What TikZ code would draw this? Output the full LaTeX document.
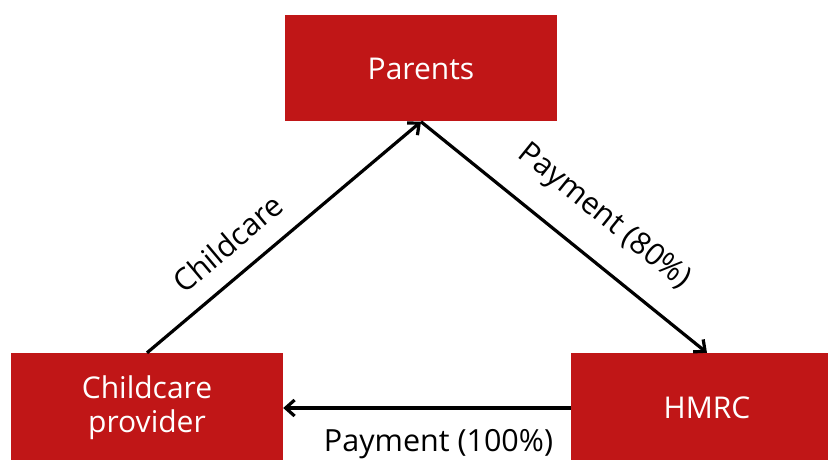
\documentclass[tikz,border=0pt]{standalone}
\usepackage{fontspec}
\setmainfont{Open Sans}
\usetikzlibrary{arrows.meta}
\definecolor{boxred}{RGB}{192,22,23}
\tikzset{
  party/.style={fill=boxred, draw=none, minimum width=272pt, minimum height=106pt,
    text=white, align=center, font=\fontsize{30}{34}\selectfont},
  flow/.style={line width=3.2pt, -{Straight Barb[length=9pt,width=16pt,line width=3.2pt]}},
  flowlabel/.style={font=\fontsize{30.5}{34}\selectfont, sloped}
}
\begin{document}
\begin{tikzpicture}[x=1pt, y=1pt]
  \useasboundingbox (0,0) rectangle (828,459);
  \node[party] (parents) at (421,390.5) {Parents};%
  \node[party, minimum height=110pt] (provider) at (147,51) {Childcare\\provider};%
  \node[party, minimum height=110pt] (hmrc) at (707,51) {HMRC};%
  \draw[flow] (provider.north) -- (parents.south)
    node[flowlabel, pos=0.37, above=15pt] {Childcare};%
  \draw[flow] (parents.south) -- (hmrc.north)
    node[flowlabel, pos=0.55, above=21pt] {Payment (80\%)};%
  \draw[flow] (hmrc.west) -- (provider.east)
    node[flowlabel, pos=0.46, below=16pt] {Payment (100\%)};%
\end{tikzpicture}
\end{document}
